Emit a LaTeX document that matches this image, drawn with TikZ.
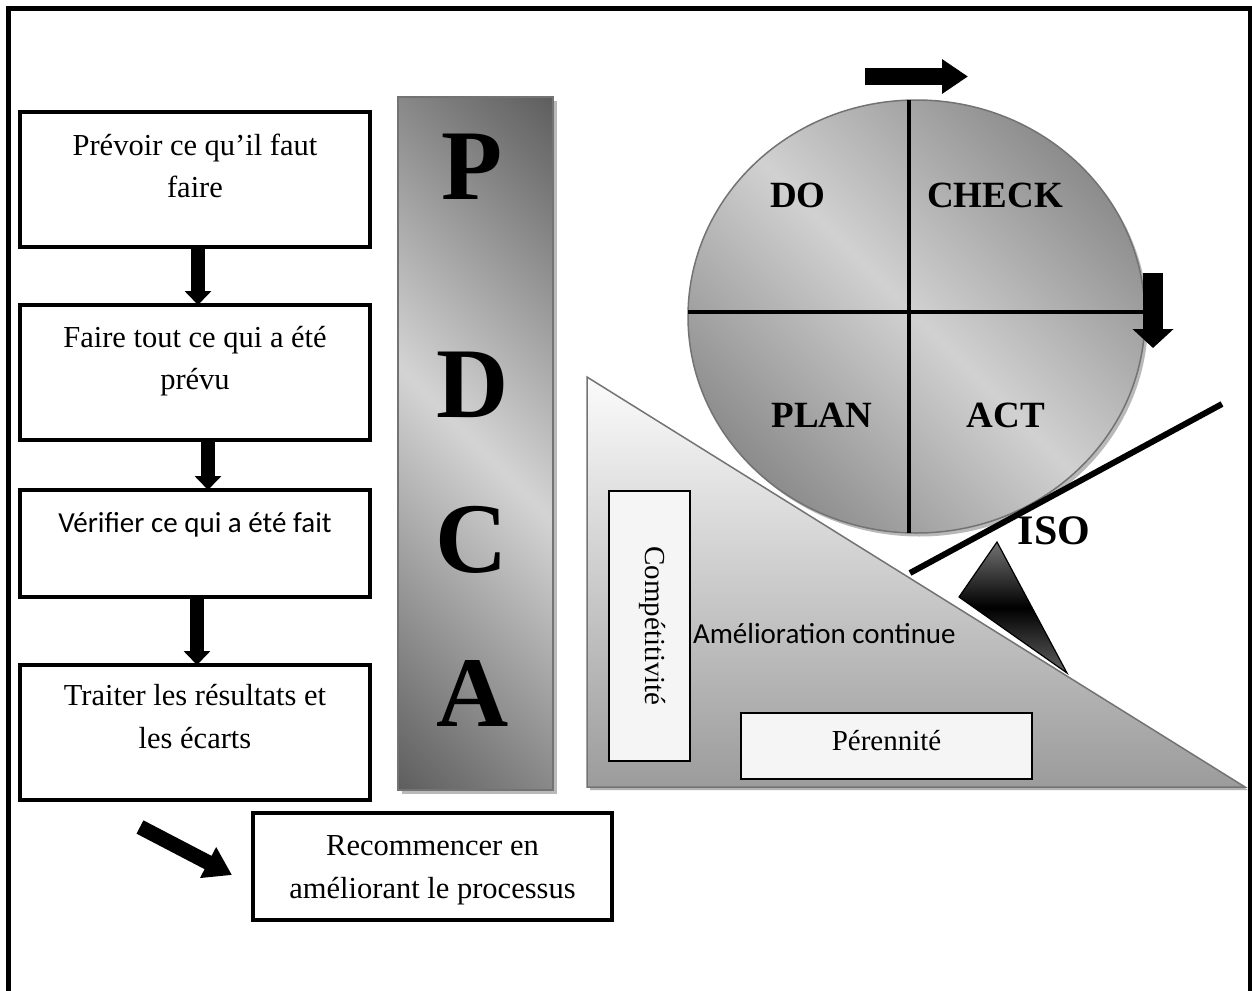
\documentclass[tikz,border=0pt]{standalone}
\usepackage{fontspec}
\setmainfont{Liberation Serif}
\newfontfamily\calibri{Carlito}
\usetikzlibrary{arrows.meta,shapes.geometric}
\definecolor{shdark}{gray}{0.36}
\definecolor{shlight}{gray}{0.83}
\definecolor{whdark}{gray}{0.43}
\definecolor{whlight}{gray}{0.82}
% metallic band running along one diagonal, dark towards the two other corners
\pgfdeclarehorizontalshading{sheen}{100bp}{color(0bp)=(shdark); color(14bp)=(shdark); color(50bp)=(shlight); color(86bp)=(shdark); color(100bp)=(shdark)}
\pgfdeclarehorizontalshading{wheelsheen}{100bp}{color(0bp)=(whdark); color(14bp)=(whdark); color(50bp)=(whlight); color(86bp)=(whdark); color(100bp)=(whdark)}

\begin{document}
\begin{tikzpicture}[x=1pt,y=-1pt,
  every node/.style={inner sep=0pt, outer sep=0pt},
  stepbox/.style={draw, rectangle, line width=3.5pt, minimum width=350pt},
  steptext/.style={anchor=base, font=\fontsize{30.5}{36}\selectfont},
  sanstext/.style={anchor=base, font=\calibri\fontsize{29}{35}\selectfont},
  blockdown/.style={line width=14pt, -{Triangle[width=26pt,length=14pt]}},
  bigletter/.style={font=\bfseries\fontsize{100}{100}\selectfont},
  quadtext/.style={font=\bfseries\fontsize{37}{40}\selectfont},
  whitebox/.style={draw, rectangle, line width=1.6pt, fill=gray!8},
  divider/.style={line width=4.5pt},
  shadowfill/.style={fill=gray!55, draw=none},
]
\useasboundingbox (0,0) rectangle (1252,990);

% page frame (open at the bottom)
\draw[line width=5pt, line join=miter] (8.5,995) -- (8.5,8.5) -- (1250.5,8.5) -- (1250.5,995);

% ---------- left column: the four steps ----------
\node[stepbox, minimum height=135pt] (b1) at (195,179.5) {};
\node[stepbox, minimum height=135pt] (b2) at (195,372.5) {};
\node[stepbox, minimum height=107pt] (b3) at (195,543.5) {};
\node[stepbox, minimum height=135pt] (b4) at (195,732.5) {};
\node[stepbox, minimum width=359pt, minimum height=107pt] (b5) at (432.5,866.5) {};

\node[steptext] (t1a) at (195,155) {Prévoir ce qu’il faut};
\node[steptext] (t1b) at (195,197) {faire};
\node[steptext] (t2a) at (195,347) {Faire tout ce qui a été};
\node[steptext] (t2b) at (195,389) {prévu};
\node[sanstext] (t3a) at (195,532) {Vérifier ce qui a été fait};
\node[steptext] (t4a) at (195,705) {Traiter les résultats et};
\node[steptext] (t4b) at (195,748) {les écarts};
\node[steptext] (t5a) at (432.5,855) {Recommencer en};
\node[steptext] (t5b) at (432.5,898) {améliorant le processus};

\draw[blockdown] ([xshift=3pt]b1.south) -- ([xshift=3pt]b2.north);
\draw[blockdown] ([xshift=13pt]b2.south) -- ([xshift=13pt]b3.north);
\draw[blockdown] ([xshift=2pt]b3.south) -- ([xshift=2pt]b4.north);

\coordinate (d0) at (140,827);
\coordinate (d1) at (232,875);
\draw[line width=15pt, -{Triangle[width=33pt,length=27pt]}] (d0) -- (d1);

% ---------- PDCA bar ----------
\fill[shadowfill] (402,101) rectangle (557,794);
\node[rectangle, shade, shading=sheen, shading angle=45, draw=black!55, line width=1.2pt,
      minimum width=155pt, minimum height=693pt] (bar) at (475.5,443.5) {};
\node[bigletter] (lp) at (472,167) {P};
\node[bigletter] (ld) at (473,385) {D};
\node[bigletter] (lc) at (472,540) {C};
\node[bigletter] (la) at (473,693) {A};

% ---------- improvement wedge ----------
\coordinate (tA) at (587,377);
\coordinate (tB) at (587,787);
\coordinate (tC) at (1245,787);
\fill[gray!60] ([shift={(3,3)}]tA) -- ([shift={(3,3)}]tB) -- ([shift={(3,3)}]tC) -- cycle;
\shade[top color=gray!3, bottom color=gray!78, draw=black!55, line width=1.5pt] (tA) -- (tB) -- (tC) -- cycle;

\node[whitebox, minimum width=81pt, minimum height=270pt] (comp) at (649.5,626) {};
\node[rotate=-90, font=\fontsize{29}{34}\selectfont] (compt) at (652,626) {Compétitivité};
\node[whitebox, minimum width=291pt, minimum height=66pt] (peren) at (886.5,746) {};
\node[anchor=base, font=\fontsize{29}{34}\selectfont] (perent) at (886.5,750) {Pérennité};
\node[sanstext, anchor=base west] (amel) at (693,643) {Amélioration continue};

% fulcrum under the ISO line
\coordinate (fA) at (997,542);
\coordinate (fB) at (959,597);
\coordinate (fC) at (1067,673);
\shade[top color=black!55, bottom color=black!62, middle color=black, draw=black, line width=1.2pt] (fA) -- (fB) -- (fC) -- cycle;

% ---------- PDCA wheel ----------
\fill[shadowfill] (919.5,320) ellipse [x radius=228.5pt, y radius=216.5pt];
\node[ellipse, shade, shading=wheelsheen, shading angle=45, draw=black!55, line width=1.5pt,
      minimum width=457pt, minimum height=433pt] (wheel) at (916.5,316.5) {};
\draw[divider] ([xshift=-7.5pt]wheel.north) -- ([xshift=-7.5pt]wheel.south);
\draw[divider] ([yshift=4.5pt]wheel.west) -- ([yshift=4.5pt]wheel.east);
\node[quadtext] (qdo) at (798,195) {DO};
\node[quadtext] (qcheck) at (995,195) {CHECK};
\node[quadtext] (qplan) at (822,415) {PLAN};
\node[quadtext] (qact) at (1006,415) {ACT};

\coordinate (r0) at (865,76.5);
\coordinate (r1) at (968,76.5);
\draw[line width=17pt, -{Triangle[width=33pt,length=26pt]}] (r0) -- (r1);
\coordinate (s0) at (1153,273);
\coordinate (s1) at (1153,348);
\draw[line width=20pt, -{Triangle[width=40pt,length=19pt]}] (s0) -- (s1);

% ISO lever
\coordinate (i0) at (910,573);
\coordinate (i1) at (1222,404);
\draw[line width=6pt] (i0) -- (i1);
\node[font=\bfseries\fontsize{42}{44}\selectfont] (iso) at (1054,531) {ISO};
\end{tikzpicture}
\end{document}
